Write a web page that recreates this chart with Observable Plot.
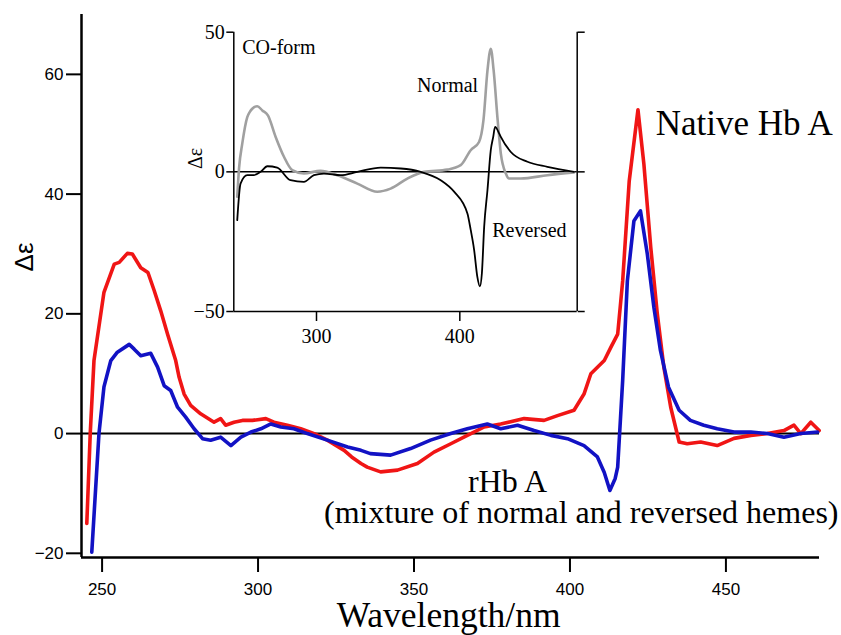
<!DOCTYPE html>
<html>
<head>
<meta charset="utf-8">
<script src="https://cdn.jsdelivr.net/npm/d3@7"></script>
<script src="https://cdn.jsdelivr.net/npm/@observablehq/plot@0.6"></script>
<style>
  html, body { margin: 0; padding: 0; background: white; }
  #wrap { position: relative; width: 841px; height: 635px; overflow: hidden; }
  #inset { position: absolute; left: 180px; top: 10px; }
</style>
</head>
<body>
<div id="wrap"><div id="main"></div><div id="inset"></div></div>
<script>
// ---- Main chart data (wavelength in nm, Δε) ----
const nativeWl = [245.1,246.2,247.4,250.6,253.9,255.5,258.1,259.7,262.4,264.7,266.7,268.8,271,273.6,274.7,276.3,278.4,281.6,285.9,288,289.6,292.3,295,298.2,302.5,305.1,309.4,313.7,318,322.2,327.6,330,333,335,339.3,344.7,351.1,356.4,361.8,367.1,372.5,377.8,385.3,391.7,396,401.3,404.5,406.7,411,413.1,415.3,416.9,419,421.8,423.7,425.9,428,430.1,432.3,435,437.6,441.9,447.2,452.6,458,463.3,468.6,471.8,474,477.2,479.9];
const nativeDe = [-15,0,12.2,23.6,28.3,28.6,30.1,30,27.7,26.9,23.9,20.5,16.6,12.2,9.4,6.6,4.7,3.3,1.9,2.5,1.4,1.9,2.2,2.2,2.5,1.9,1.4,0.8,0,-1.1,-2.8,-3.9,-5,-5.6,-6.4,-6.1,-5,-3.1,-1.7,-0.3,1.1,1.6,2.5,2.2,3,3.9,6.6,10,12.2,14.4,16.6,25.5,42.2,54.1,45,31.1,20,11.1,4.4,-1.4,-1.7,-1.4,-2,-0.8,-0.3,0,0.5,1.4,0,1.9,0.5];

const rhbWl = [246.7,249,250.6,252.8,254.9,258.7,260.3,262.4,265.6,267.8,269.9,272,274.2,276.8,279.5,282.2,284.8,288,291.3,294.5,297.7,300.9,304.1,307.3,311.5,315.8,322.2,328.7,333,336,342.5,348.9,355.3,361.8,367.1,373.5,377.8,383.2,388.5,393.9,399.2,404.5,408.8,411,412.8,414.5,415.3,416.9,418.4,420.5,422.6,424.8,426.9,429,431.6,435,438.6,442.9,447.2,452.6,458,463.3,468.6,474,479.4];
const rhbDe = [-19.8,0,7.8,12.2,13.6,14.9,14.1,13,13.4,11.1,8,7.2,4.4,2.75,0.8,-0.85,-1.1,-0.6,-2,-0.6,0.25,0.8,1.6,1.1,0.8,0,-1.1,-2.25,-2.8,-3.35,-3.6,-2.5,-1.1,0,0.8,1.6,0.8,1.4,0.5,-0.3,-0.85,-2,-3.9,-6.5,-9.5,-7.5,-5.6,8.9,25.5,35.5,37.2,30,21.1,13.9,7.75,3.9,2.2,1.4,0.8,0.25,0.25,0,-0.6,0,0.25];

// ---- Inset data (CO-form) ----
const normalWl = [244.7,246,248.2,251.7,253.5,255,258.7,262.2,266.1,271.5,277.3,283.1,291.2,302.8,314.5,328.5,342.4,351.7,363.4,375,391.3,400.6,407.6,413.4,416.5,419.3,421.6,423.6,426.4,428.6,432.1,434.4,442.5,461.1,479.7];
const normalDe = [-8.9,1.5,10.1,19.6,21.5,22.5,23.5,22,20.2,12.5,5.4,0.6,-0.6,0.4,-1.2,-4.2,-7.1,-6,-2.4,0,0.8,2.4,7.75,10.7,18.5,36.3,44.1,36.3,18.5,6.6,-0.6,-2.4,-2.4,-1.2,-0.2];

const reversedWl = [244.7,247,251.7,256.3,261,265.7,272.6,281.9,291.2,298.2,305.2,316.8,328.5,344.8,358.8,372.7,386.7,396,405.3,407.6,410,412.2,414,415.4,417,419.3,421.6,423.3,424.6,427.5,428.6,435.6,447.2,461.1,479.7];
const reversedDe = [-17.3,-4.2,-1.2,-1.2,0,2,1.5,-3,-3.6,-1.2,-0.6,-1.2,0,1.5,1.2,0,-3,-7.1,-14.9,-20.8,-28,-37.5,-41,-36.3,-19.6,-6.5,7.75,12.5,16.1,13.7,12.5,7.1,3.6,1.8,0];

// ---- Ticks ----
const mainXTicks = [250, 300, 350, 400, 450];
const mainYTicks = [-20, 0, 20, 40, 60];
const insetXTicks = [300, 400];
const insetYTicks = [-50, 0, 50];

// ---- Labels ----
const mainLabels = ["Native Hb A", "rHb A", "(mixture of normal and reversed hemes)"];
const insetLabels = ["CO-form", "Normal", "Reversed"];

const toRows = (wl, de) => wl.map((w, i) => ({wl: w, de: de[i]}));
const native = toRows(nativeWl, nativeDe);
const rhb = toRows(rhbWl, rhbDe);
const normal = toRows(normalWl, normalDe);
const reversed = toRows(reversedWl, reversedDe);

const serif = "'Liberation Serif', 'Times New Roman', serif";
const sans = "'Liberation Sans', Arial, sans-serif";

const xMin = 243.4, xMax = 480, yMin = -20.7, yMax = 70;

const mainPlot = Plot.plot({
  width: 841, height: 635,
  marginLeft: 81, marginRight: 22, marginTop: 14, marginBottom: 78,
  x: {domain: [xMin, xMax]},
  y: {domain: [yMin, yMax]},
  style: {fontFamily: sans, fontSize: "17px", background: "white", overflow: "visible", color: "black"},
  marks: [
    Plot.ruleY([0], {stroke: "black", strokeWidth: 2}),
    Plot.line(native, {x: "wl", y: "de", stroke: "#f01515", strokeWidth: 3.6}),
    Plot.line(rhb, {x: "wl", y: "de", stroke: "#1212c4", strokeWidth: 3.6}),
    Plot.ruleX([xMin], {stroke: "black", strokeWidth: 2.5}),
    Plot.ruleY([yMin], {stroke: "black", strokeWidth: 2.5}),
    Plot.axisX({ticks: mainXTicks, tickSize: 15, tickPadding: 10, label: null, strokeWidth: 2}),
    Plot.axisY({ticks: mainYTicks, tickSize: 15, tickPadding: 3, label: null, strokeWidth: 2}),
    Plot.text(["Δε"], {frameAnchor: "left", y: [29.5], dx: -57, rotate: -90, textAnchor: "middle", fontSize: 26, fontFamily: sans}),
    Plot.text(["Wavelength/nm"], {x: [361.1], y: [-32.3], lineAnchor: "bottom", textAnchor: "middle", fontSize: 35.5, fontFamily: serif}),
    Plot.text([mainLabels[0]], {x: [427.5], y: [49.8], lineAnchor: "bottom", textAnchor: "start", fontSize: 35, fontFamily: serif}),
    Plot.text([mainLabels[1]], {x: [367.3], y: [-9.8], lineAnchor: "bottom", textAnchor: "start", fontSize: 32, fontFamily: serif}),
    Plot.text([mainLabels[2]], {x: [486.1], y: [-15.0], lineAnchor: "bottom", textAnchor: "end", fontSize: 32, fontFamily: serif})
  ]
});
document.getElementById("main").appendChild(mainPlot);

const ixMin = 242.3, ixMax = 481.9, iyMin = -50, iyMax = 50;
const insetPlot = Plot.plot({
  width: 420, height: 340,
  marginLeft: 53.3, marginRight: 23.3, marginTop: 21.7, marginBottom: 39,
  x: {domain: [ixMin, ixMax]},
  y: {domain: [iyMin, iyMax]},
  style: {fontFamily: serif, fontSize: "20px", background: "transparent", overflow: "visible", color: "black"},
  marks: [
    Plot.ruleY([0], {stroke: "black", strokeWidth: 1.5}),
    Plot.line(normal, {x: "wl", y: "de", stroke: "#a0a0a0", strokeWidth: 2.6, curve: "monotone-x"}),
    Plot.line(reversed, {x: "wl", y: "de", stroke: "black", strokeWidth: 1.8, curve: "monotone-x"}),
    Plot.ruleX([ixMin, ixMax], {stroke: "black", strokeWidth: 1.5}),
    Plot.ruleY([iyMin], {stroke: "black", strokeWidth: 1.5}),
    Plot.axisX({ticks: insetXTicks, tickSize: 10, tickPadding: 7, label: null, strokeWidth: 1.5}),
    Plot.axisY({ticks: insetYTicks, tickSize: 7, tickPadding: 2, label: null, strokeWidth: 1.5}),
    Plot.axisY({anchor: "right", ticks: insetYTicks, tickSize: 7, tickFormat: () => "", label: null, strokeWidth: 1.5}),
    Plot.text(["Δε"], {frameAnchor: "left", y: [4.8], dx: -38, rotate: -90, textAnchor: "middle", fontSize: 20, fontFamily: serif}),
    Plot.text([insetLabels[0]], {x: [248.2], y: [42.3], lineAnchor: "bottom", textAnchor: "start", fontSize: 20}),
    Plot.text([insetLabels[1]], {x: [412.8], y: [28.5], lineAnchor: "bottom", textAnchor: "end", fontSize: 20}),
    Plot.text([insetLabels[2]], {x: [422.6], y: [-23.4], lineAnchor: "bottom", textAnchor: "start", fontSize: 20})
  ]
});
document.getElementById("inset").appendChild(insetPlot);
</script>
</body>
</html>
